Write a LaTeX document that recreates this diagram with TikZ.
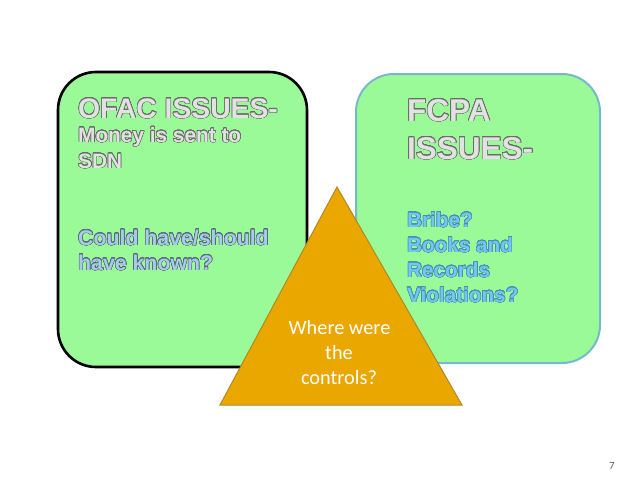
\documentclass[tikz,border=0pt]{standalone}
\usepackage{fontspec}
\setmainfont{Liberation Sans}
\newfontfamily\calibri{Carlito}
\usepackage{contour}
\contournumber{24}
\definecolor{boxgreen}{HTML}{9AFA98}
\definecolor{tribg}{HTML}{EAA700}
\definecolor{triedge}{HTML}{B08A20}
\definecolor{rightedge}{HTML}{78B8CC}
\definecolor{titlefill}{HTML}{E2E2E2}
\definecolor{titleline}{HTML}{6A6A6A}
\definecolor{bluefill}{HTML}{A8CBE8}
\definecolor{blueline}{HTML}{56697C}
\definecolor{cyanfill}{HTML}{70C8F0}
\definecolor{cyanline}{HTML}{4A8CB4}
\newcommand{\gtext}[1]{{\contourlength{0.55pt}\contour{titleline}{\textcolor{titlefill}{#1}}}}
\newcommand{\btext}[1]{{\contourlength{0.5pt}\contour{blueline}{\textcolor{bluefill}{#1}}}}
\newcommand{\ctext}[1]{{\contourlength{0.5pt}\contour{cyanline}{\textcolor{cyanfill}{#1}}}}
\begin{document}
\begin{tikzpicture}[x=1pt,y=-1pt,
  issuebox/.style={fill=boxgreen,rounded corners=38pt},
  txt/.style={anchor=base west,inner sep=0pt,font=\bfseries}]
\fill[white] (0,0) rectangle (638,479);
\useasboundingbox (0,0) rectangle (638,479);
% left box
\draw[issuebox,draw=black,line width=2.6pt] (58,72) rectangle (307,367);
\node[txt,font=\bfseries\fontsize{28.3}{30}\selectfont] (ofac) at (78,118) {\gtext{OFAC ISSUES-}};
\node[txt,font=\bfseries\fontsize{20.8}{22}\selectfont] (money) at (78,142) {\gtext{Money is sent to}};
\node[txt,font=\bfseries\fontsize{20.8}{22}\selectfont] (sdn) at (78,168) {\gtext{SDN}};
\node[txt,font=\bfseries\fontsize{21.3}{22}\selectfont] (could) at (78,245) {\btext{Could have/should}};
\node[txt,font=\bfseries\fontsize{21.3}{22}\selectfont] (known) at (78,270) {\btext{have known?}};
% right box
\draw[issuebox,draw=rightedge,line width=2pt] (356,74) rectangle (600,363);
\node[txt,font=\bfseries\fontsize{31.5}{33}\selectfont] (fcpa) at (407,121) {\gtext{FCPA}};
\node[txt,font=\bfseries\fontsize{31.5}{33}\selectfont] (issues) at (407,159) {\gtext{ISSUES-}};
\node[txt,font=\bfseries\fontsize{20.7}{22}\selectfont] (bribe) at (407,227) {\ctext{Bribe?}};
\node[txt,font=\bfseries\fontsize{20.7}{22}\selectfont] (books) at (407,252) {\ctext{Books and}};
\node[txt,font=\bfseries\fontsize{20.7}{22}\selectfont] (records) at (407,277) {\ctext{Records}};
\node[txt,font=\bfseries\fontsize{20.7}{22}\selectfont] (viol) at (407,302) {\ctext{Violations?}};
% triangle
\coordinate (apex) at (337,187);
\coordinate (bl) at (220,405);
\coordinate (br) at (462,405);
\draw[fill=tribg,draw=triedge,line width=1pt,line join=miter] (apex) -- (bl) -- (br) -- cycle;
\node[anchor=base,inner sep=0pt,text=white,font=\calibri\fontsize{20.3}{20}\selectfont] (where) at (339.5,334) {Where were};
\node[anchor=base,inner sep=0pt,text=white,font=\calibri\fontsize{20.3}{20}\selectfont] (the) at (339,359) {the};
\node[anchor=base,inner sep=0pt,text=white,font=\calibri\fontsize{20.3}{20}\selectfont] (ctrl) at (339,384) {controls?};
% page number
\node[anchor=base,inner sep=0pt,text=gray!80!black,font=\calibri\fontsize{11}{11}\selectfont] (pg) at (612,469) {7};
\end{tikzpicture}
\end{document}
